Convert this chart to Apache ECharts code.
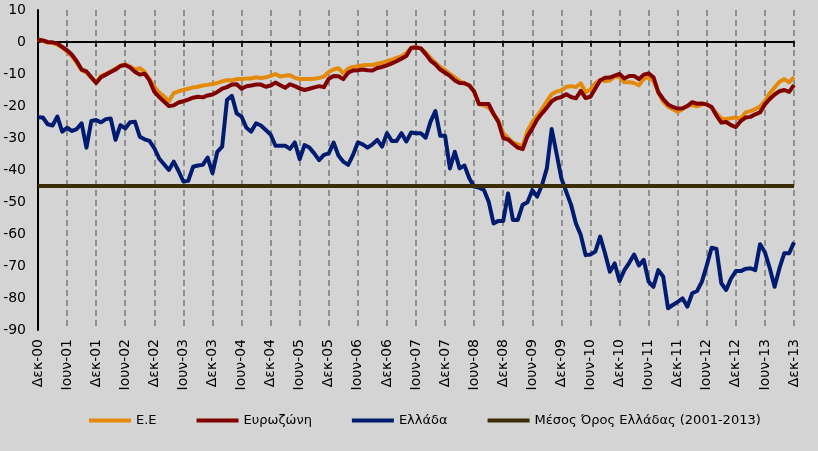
<!DOCTYPE html>
<html>
<head>
<meta charset="utf-8">
<script src="https://cdn.jsdelivr.net/npm/echarts@6/dist/echarts.min.js"></script>
<style>
html,body{margin:0;padding:0;background:#d4d4d4;}
#chart{width:818px;height:451px;}
</style>
</head>
<body>
<div id="chart"></div>
<script>
// Monthly categories Dec 2000 .. Dec 2013
var monthNames = ['Ιαν','Φεβ','Μαρ','Απρ','Μαϊ','Ιουν','Ιουλ','Αυγ','Σεπ','Οκτ','Νοε','Δεκ'];
var categories = [];
for (var k = 0; k < 157; k++) {
  var m = (11 + k) % 12;
  var y = 2000 + Math.floor((11 + k) / 12);
  categories.push(monthNames[m] + '-' + String(y % 100).padStart(2, '0'));
}

var seriesNames = ['Ε.Ε', 'Ευρωζώνη', 'Ελλάδα', 'Μέσος Όρος Ελλάδας (2001-2013)'];

var eu = [
0.8,0.3,-0.2,-0.3,-0.8,-1.8,-3.0,-4.5,-6.5,-8.8,-9.5,-11.2,-12.6,-10.6,-10.0,-9.2,-8.3,-7.4,-7.0,-7.6,
-8.6,-8.2,-9.3,-11.5,-14.0,-15.8,-17.0,-18.5,-16.0,-15.4,-15.0,-14.6,-14.2,-14.0,-13.6,-13.4,-13.1,-12.8,-12.3,-11.9,
-12.0,-11.6,-11.6,-11.4,-11.4,-11.0,-11.3,-11.0,-10.6,-10.0,-10.8,-10.5,-10.4,-11.2,-11.6,-11.6,-11.6,-11.5,-11.2,-10.8,
-9.4,-8.6,-8.2,-9.8,-8.3,-7.8,-7.6,-7.3,-7.2,-7.2,-6.8,-6.5,-6.0,-5.5,-5.0,-4.5,-3.5,-1.8,-1.5,-2.0,
-3.3,-5.0,-6.5,-7.8,-8.8,-10.0,-11.0,-12.2,-12.9,-13.5,-15.5,-19.5,-19.8,-20.5,-22.3,-24.5,-28.5,-30.0,-31.4,-32.0,
-32.6,-27.8,-25.0,-23.0,-21.0,-18.5,-16.3,-15.5,-15.1,-14.0,-13.8,-14.1,-12.9,-15.7,-14.8,-12.9,-11.8,-12.2,-12.0,-10.8,
-11.0,-12.6,-12.6,-12.8,-13.5,-11.5,-11.0,-12.2,-15.7,-18.6,-20.2,-21.0,-21.8,-21.0,-20.0,-19.7,-20.1,-19.5,-19.4,-20.5,
-22.3,-23.9,-24.1,-23.8,-23.6,-24.0,-22.0,-21.6,-21.0,-20.2,-18.5,-16.0,-14.2,-12.4,-11.6,-12.6,-11.0
];

var eurozone = [
0.8,0.5,0.0,-0.1,-0.5,-1.5,-2.6,-4.0,-6.0,-8.6,-9.2,-11.0,-12.8,-11.0,-10.2,-9.4,-8.6,-7.5,-7.2,-8.0,
-9.3,-10.2,-9.9,-12.0,-15.5,-17.2,-18.6,-20.0,-19.8,-18.9,-18.5,-18.0,-17.4,-17.1,-17.3,-16.7,-16.4,-15.6,-14.6,-14.1,
-13.3,-13.2,-14.6,-13.8,-13.6,-13.3,-13.3,-14.0,-13.6,-12.7,-13.5,-14.3,-13.2,-13.8,-14.5,-15.0,-14.6,-14.2,-13.8,-14.1,
-11.5,-10.6,-10.7,-11.6,-9.6,-8.9,-8.8,-8.6,-8.8,-8.9,-8.1,-7.8,-7.3,-6.7,-6.0,-5.2,-4.4,-1.9,-1.7,-2.0,
-3.8,-5.8,-7.0,-8.6,-9.6,-10.6,-12.0,-12.8,-12.9,-13.6,-15.5,-19.4,-19.4,-19.4,-22.5,-25.0,-30.0,-30.5,-31.8,-33.0,
-33.5,-29.5,-27.0,-24.2,-22.3,-20.5,-18.5,-17.6,-17.2,-16.3,-17.2,-17.6,-15.3,-17.5,-17.1,-14.5,-12.0,-11.2,-11.1,-10.5,
-10.0,-11.4,-10.6,-10.6,-11.6,-10.2,-9.8,-11.0,-15.7,-17.8,-19.5,-20.3,-20.8,-20.7,-20.0,-18.8,-19.3,-19.2,-19.5,-20.3,
-23.0,-25.2,-25.0,-26.0,-26.6,-24.7,-23.6,-23.4,-22.6,-22.0,-19.5,-17.8,-16.4,-15.4,-15.0,-15.6,-13.5
];

var greece = [
-23.5,-23.6,-25.7,-26.1,-23.3,-28.0,-26.8,-27.8,-27.2,-25.4,-33.0,-24.7,-24.4,-25.1,-24.1,-23.9,-30.6,-26.0,-27.0,-25.1,
-24.9,-29.6,-30.4,-30.9,-33.2,-36.4,-38.2,-40.0,-37.4,-40.3,-43.6,-43.4,-39.0,-38.6,-38.4,-36.1,-41.0,-34.3,-32.7,-18.1,
-16.8,-22.3,-23.3,-26.8,-28.0,-25.4,-26.1,-27.5,-28.9,-32.4,-32.4,-32.4,-33.4,-31.4,-36.6,-32.2,-33.0,-34.8,-36.9,-35.3,
-34.8,-31.4,-35.5,-37.4,-38.4,-35.3,-31.4,-32.0,-33.0,-32.0,-30.6,-32.7,-28.5,-30.9,-30.9,-28.5,-31.1,-28.3,-28.5,-28.5,
-29.9,-24.9,-21.6,-29.3,-29.3,-39.5,-34.3,-39.5,-38.6,-42.6,-45.2,-45.5,-46.2,-49.9,-56.7,-55.9,-55.9,-47.3,-55.6,-55.6,
-50.9,-50.1,-46.3,-48.3,-44.7,-39.5,-27.2,-34.8,-42.6,-46.8,-50.9,-56.7,-60.3,-66.6,-66.4,-65.5,-60.8,-66.0,-71.8,-69.2,
-74.7,-71.3,-69.0,-66.4,-69.8,-68.1,-74.9,-76.5,-71.3,-73.3,-83.2,-82.2,-81.2,-80.1,-82.7,-78.5,-77.8,-74.9,-69.8,-64.3,
-64.7,-75.4,-77.5,-73.9,-71.6,-71.6,-70.9,-70.7,-71.3,-63.2,-65.7,-70.7,-76.5,-70.7,-66.0,-66.0,-62.6
];

var greeceAverage = -45.0;
var averageLine = categories.map(function(){ return greeceAverage; });
var zeroLine = categories.map(function(){ return 0; });

var yTicks = { min: -90, max: 10, interval: 10 };

var colors = ['#e38a0b', '#800000', '#001c70', '#3b2d06'];
var FONT = '"DejaVu Sans", sans-serif';

// horizontal split line colours: only the 0 line is drawn (black)
var ySplitColors = [];
for (var t = yTicks.min; t <= yTicks.max; t += yTicks.interval) {
  ySplitColors.push(t === 0 ? '#000000' : 'rgba(0,0,0,0)');
}

var chart = echarts.init(document.getElementById('chart'));
function lineSeries(name, data, color, width, z) {
  return {
    name: name, type: 'line', data: data, z: z,
    symbol: 'none', smooth: false,
    lineStyle: { color: color, width: width, join: 'round' },
    itemStyle: { color: color }
  };
}
var zeroSeries = lineSeries('zero', zeroLine, '#000000', 2, 1);
zeroSeries.silent = true;

chart.setOption({
  backgroundColor: '#d4d4d4',
  grid: { left: 38, right: 24, top: 10, bottom: 121 },
  legend: {
    left: 84, top: 409,
    itemWidth: 42, itemHeight: 4, itemGap: 40,
    icon: 'rect',
    textStyle: { fontFamily: FONT, fontSize: 13, color: '#000' },
    data: seriesNames
  },
  xAxis: [
    {
      type: 'category', data: categories, boundaryGap: false,
      axisLine: { show: false, onZero: false },
      axisTick: { show: false },
      splitLine: { show: true, interval: 5, lineStyle: { color: '#7a7a7a', type: [6, 4], width: 1.5 } },
      axisLabel: { show: true, interval: 5, rotate: 90, margin: 9, fontSize: 14, color: '#000', fontFamily: FONT }
    },
    {
      type: 'category', data: categories, boundaryGap: false, position: 'top',
      axisLine: { show: true, onZero: true, lineStyle: { color: '#000', width: 2 } },
      axisTick: { show: true, inside: true, interval: 5, length: 5, lineStyle: { color: '#000', width: 1.5 } },
      axisLabel: { show: false },
      splitLine: { show: false }
    }
  ],
  yAxis: {
    type: 'value', min: yTicks.min, max: yTicks.max, interval: yTicks.interval,
    axisLine: { show: true, lineStyle: { color: '#000', width: 2 } },
    axisTick: { show: false },
    splitLine: { show: true, lineStyle: { color: ySplitColors, width: 2, type: 'solid' } },
    axisLabel: { fontSize: 14, color: '#000', margin: 12, fontFamily: FONT }
  },
  series: [
    zeroSeries,
    lineSeries(seriesNames[0], eu, colors[0], 4, 2),
    lineSeries(seriesNames[1], eurozone, colors[1], 4, 3),
    lineSeries(seriesNames[2], greece, colors[2], 4, 4),
    lineSeries(seriesNames[3], averageLine, colors[3], 4, 5)
  ]
});
</script>
</body>
</html>
